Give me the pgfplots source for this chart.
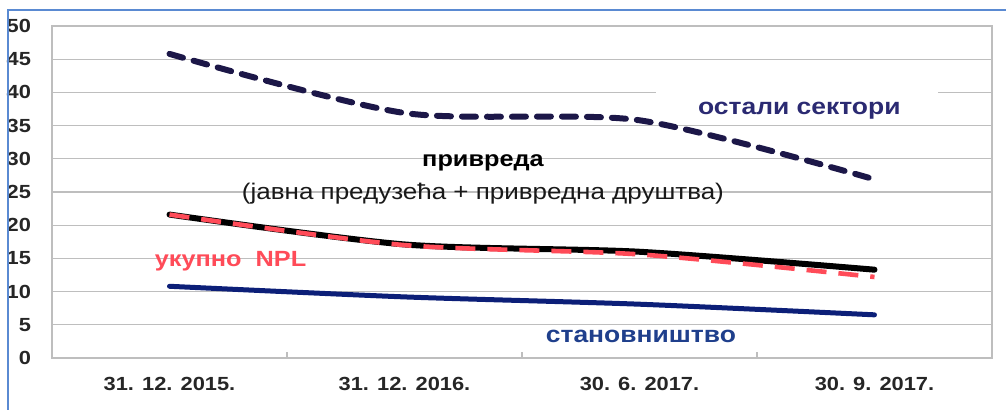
\documentclass[border=0pt]{standalone}
\usepackage{fontspec}
\setmainfont{Liberation Sans}[FakeStretch=1.15]
\usepackage{pgfplots}
\pgfplotsset{compat=1.18}
\definecolor{navyd}{HTML}{1C1748}
\definecolor{navyl}{HTML}{2B2A72}
\definecolor{bluel}{HTML}{0C1F78}
\definecolor{bluet}{HTML}{1F3F8C}
\definecolor{redl}{HTML}{FF4B58}
\definecolor{gridc}{HTML}{BEBEBE}
\definecolor{frameb}{HTML}{5A8AD2}
\begin{document}
\begin{tikzpicture}[x=1pt,y=1pt]
\begin{axis}[
  at={(26pt,26pt)}, anchor=south west,
  scale only axis, width=470pt, height=166pt,
  xmin=-0.5, xmax=3.5, ymin=0, ymax=50,
  xtick={0,1,2,3},
  xticklabels={31. 12. 2015., 31. 12. 2016., 30. 6. 2017., 30. 9. 2017.},
  minor xtick={0.5,1.5,2.5},
  major tick length=0pt, minor tick length=3pt,
  ytick={0,5,...,50},
  ymajorgrids, grid style={gridc, line width=0.6pt},
  axis line style={gridc, line width=0.6pt},
  every tick/.style={gridc, line width=0.6pt},
  tick align=inside,
  xtick pos=bottom, ytick pos=left,
  tick label style={font=\fontsize{9.5}{10}\selectfont\bfseries, text=black!85},
  /pgf/number format/assume math mode=true,
  xticklabel style={yshift=-6pt},
  yticklabel style={xshift=-7pt},
  clip=false,
]
% white box hiding part of 40 gridline
\fill[white] (axis cs:2.07,39.4) rectangle (axis cs:3.27,40.6);
% остали сектори
\addplot[navyd, line width=3pt, dash pattern=on 7pt off 5.5pt, line cap=round, smooth, tension=0.45] coordinates {(0,45.8) (1,36.9) (2,35.8) (3,26.9)};
% привреда
\addplot[black, line width=3pt, line cap=round, smooth, tension=0.45] coordinates {(0,21.6) (1,17.1) (2,16.0) (3,13.3)};
% укупно NPL
\addplot[redl, line width=2.3pt, dash pattern=on 10pt off 6pt, smooth, tension=0.45] coordinates {(0,21.6) (1,17.0) (2,15.6) (3,12.2)};
% становништво
\addplot[bluel, line width=2.5pt, line cap=round, smooth, tension=0.45] coordinates {(0,10.8) (1,9.2) (2,8.1) (3,6.5)};
\node[text=navyl, font=\fontsize{11.5}{12}\selectfont\bfseries] at (axis cs:2.68,37.3) {остали сектори};
\node[text=black, font=\fontsize{11}{12}\selectfont\bfseries] at (axis cs:1.334,29.4) {привреда};
\node[text=black!90, font=\fontsize{11.3}{12}\selectfont] at (axis cs:1.334,24.8) {(јавна предузећа + привредна друштва)};
\node[text=redl, font=\fontsize{11}{12}\selectfont\bfseries] at (axis cs:0.26,14.5) {укупно\ \ NPL};
\node[text=bluet, font=\fontsize{11.5}{12}\selectfont\bfseries] at (axis cs:2.006,3.2) {становништво};
\end{axis}
\draw[frameb, line width=1pt] (4pt,0pt) -- (4pt,200pt) -- (503pt,200pt);
\pgfresetboundingbox
\path[use as bounding box] (0pt,0pt) rectangle (503pt,205pt);
\end{tikzpicture}
\end{document}
